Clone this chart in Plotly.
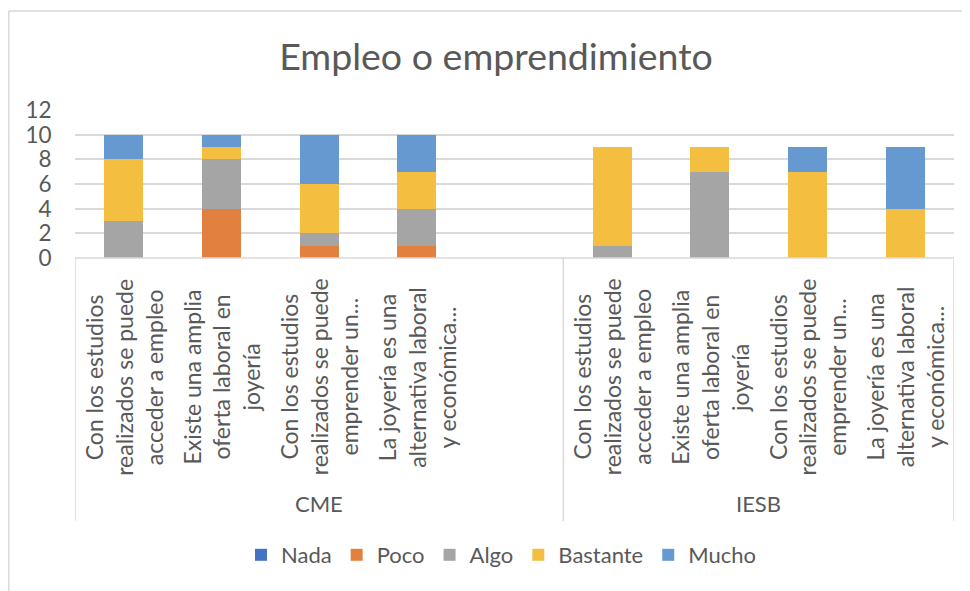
import plotly.graph_objects as go

groups = ["CME", "IESB"]
questions = [
    "Con los estudios<br>realizados se puede<br>acceder a empleo",
    "Existe una amplia<br>oferta laboral en<br>joyería",
    "Con los estudios<br>realizados se puede<br>emprender un...",
    "La joyería es una<br>alternativa laboral<br>y económica...",
]
series = ["Nada", "Poco", "Algo", "Bastante", "Mucho"]
colors = ["#4472C4", "#E2803F", "#A5A5A5", "#F4BF41", "#6699D0"]

# values per series: CME (4 questions), IESB (4 questions)
cme = {
    "Nada": [0, 0, 0, 0],
    "Poco": [0, 4, 1, 1],
    "Algo": [3, 4, 1, 3],
    "Bastante": [5, 1, 4, 3],
    "Mucho": [2, 1, 4, 3],
}
iesb = {
    "Nada": [0, 0, 0, 0],
    "Poco": [0, 0, 0, 0],
    "Algo": [1, 7, 0, 0],
    "Bastante": [8, 2, 7, 4],
    "Mucho": [0, 0, 2, 5],
}

# slot positions: CME 0..3, empty slot 4, IESB 5..8
pos_cme = [0, 1, 2, 3]
pos_iesb = [5, 6, 7, 8]
xs = pos_cme + pos_iesb

FONT = "Lato"
GRAY = "#595959"
OFF = 8  # page body margin
W, H = 970 - OFF, 591 - OFF
PL, PR, PT, PB = 75, 954, 110, 258  # plot area in page pixels
L, R, T, B = PL - OFF, W - (PR - OFF), PT - OFF, H - (PB - OFF)
PW, PH = W - L - R, H - T - B


def py(px):
    return (PB - px) / PH


def pxx(px):
    return (px - PL) / PW


fig = go.Figure()
for s, c in zip(series, colors):
    fig.add_trace(go.Bar(
        name=s, x=xs, y=cme[s] + iesb[s],
        marker=dict(color=c, line=dict(width=0)),
        width=0.4,
    ))

ann = []
for i, q in enumerate(questions):
    for p in (pos_cme[i], pos_iesb[i]):
        ann.append(dict(x=p, y=py(377), xref="x", yref="paper", text=q,
                        textangle=-90, showarrow=False, align="center",
                        xanchor="center", yanchor="middle",
                        font=dict(family=FONT, size=23, color=GRAY)))
ann.append(dict(x=2, y=py(503), xref="x", yref="paper", text=groups[0],
                showarrow=False, yanchor="middle",
                font=dict(family=FONT, size=22, color=GRAY)))
ann.append(dict(x=6.5, y=py(503), xref="x", yref="paper", text=groups[1],
                showarrow=False, yanchor="middle",
                font=dict(family=FONT, size=22, color=GRAY)))

shapes = []
for xv in (-0.5, 4.5, 8.5):
    shapes.append(dict(type="line", xref="x", yref="paper", x0=xv, x1=xv,
                       y0=0, y1=py(521), line=dict(color="#D9D9D9", width=1.5)))
shapes.append(dict(type="line", xref="x", yref="paper", x0=-0.5, x1=8.5,
                   y0=0, y1=0, line=dict(color="#D9D9D9", width=1.5)))
# outer chart border (top and left visible)
shapes.append(dict(type="line", xref="paper", yref="paper",
                   x0=pxx(8.8), x1=pxx(980), y0=py(11), y1=py(11),
                   line=dict(color="#D9D9D9", width=1.5)))
shapes.append(dict(type="line", xref="paper", yref="paper",
                   x0=pxx(8.8), x1=pxx(8.8), y0=py(11), y1=py(600),
                   line=dict(color="#D9D9D9", width=1.5)))

fig.update_layout(
    barmode="stack",
    width=W, height=H,
    margin=dict(l=L, r=R, t=T, b=B, autoexpand=False),
    paper_bgcolor="white", plot_bgcolor="white",
    title=dict(text="Empleo o emprendimiento", xref="container",
               x=(496 - OFF) / W, xanchor="center",
               yref="container", y=1 - (57 - OFF) / H, yanchor="middle",
               font=dict(family=FONT, size=37.5, color=GRAY)),
    xaxis=dict(range=[-0.5, 8.5], showticklabels=False, showgrid=False,
               zeroline=False, showline=False, fixedrange=True, automargin=False),
    yaxis=dict(range=[0, 12], dtick=2, showgrid=True, gridcolor="#D9D9D9",
               gridwidth=1.5, zeroline=False, showline=False, automargin=False,
               ticks="outside", ticklen=18, tickcolor="rgba(0,0,0,0)",
               tickfont=dict(family=FONT, size=22.5, color=GRAY)),
    legend=dict(orientation="h", xref="container", x=(501 - OFF) / W,
                xanchor="center", yref="container", y=1 - (555 - OFF) / H,
                yanchor="middle", font=dict(family=FONT, size=22, color=GRAY),
                traceorder="normal"),
    annotations=ann, shapes=shapes,
    showlegend=True,
)

fig.write_html("out.html")
